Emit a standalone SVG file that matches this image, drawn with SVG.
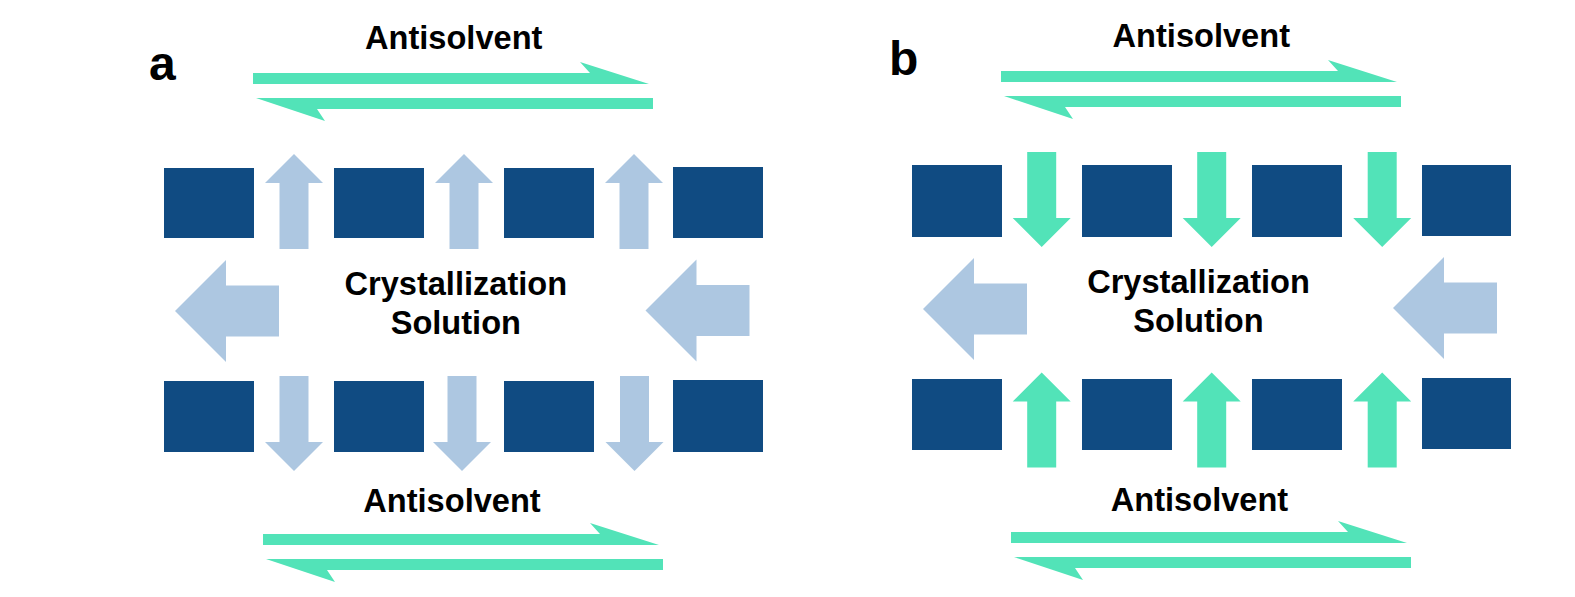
<svg xmlns="http://www.w3.org/2000/svg" xmlns:xlink="http://www.w3.org/1999/xlink" width="1575" height="597" viewBox="0 0 1575 597">
<style>
.blk{fill:#104B82}
.lb{fill:#ADC7E1}
.gr{fill:#52E3B8}
.t{font-family:"Liberation Sans",Arial,sans-serif;font-weight:bold;font-size:32.6px;fill:#000;text-anchor:middle}
.p{font-family:"Liberation Sans",Arial,sans-serif;font-weight:bold;font-size:48px;fill:#000}
</style>
<defs>
<path id="v" d="M0,0 L29,29 L14.5,29 L14.5,95 L-14.5,95 L-14.5,29 L-29,29 Z"/>
<path id="h" d="M0,0 L51,-51 L51,-25.5 L104,-25.5 L104,25.5 L51,25.5 L51,51 Z"/>
<g id="eq">
<path d="M253,73 L590,73 L580,62 L649,84 L253,84 Z"/>
<path d="M653,98 L256,98 L325,121 L317,109 L653,109 Z"/>
</g>
</defs>
<rect width="1575" height="597" fill="#fff"/>
<g id="panel-a">
<g id="a-top-r1"><rect class="blk" x="164" y="168" width="90" height="70"/></g>
<g id="a-top-r2"><rect class="blk" x="334" y="168" width="90" height="70"/></g>
<g id="a-top-r3"><rect class="blk" x="504" y="168" width="90" height="70"/></g>
<g id="a-top-r4"><rect class="blk" x="673" y="167" width="90" height="71"/></g>
<g id="a-bot-r1"><rect class="blk" x="164" y="381" width="90" height="71"/></g>
<g id="a-bot-r2"><rect class="blk" x="334" y="381" width="90" height="71"/></g>
<g id="a-bot-r3"><rect class="blk" x="504" y="381" width="90" height="71"/></g>
<g id="a-bot-r4"><rect class="blk" x="673" y="380" width="90" height="72"/></g>
</g>
<g id="panel-b">
<g id="b-top-r1"><rect class="blk" x="912" y="165" width="90" height="72"/></g>
<g id="b-top-r2"><rect class="blk" x="1082" y="165" width="90" height="72"/></g>
<g id="b-top-r3"><rect class="blk" x="1252" y="165" width="90" height="72"/></g>
<g id="b-top-r4"><rect class="blk" x="1422" y="165" width="89" height="71"/></g>
<g id="b-bot-r1"><rect class="blk" x="912" y="379" width="90" height="71"/></g>
<g id="b-bot-r2"><rect class="blk" x="1082" y="379" width="90" height="71"/></g>
<g id="b-bot-r3"><rect class="blk" x="1252" y="379" width="90" height="71"/></g>
<g id="b-bot-r4"><rect class="blk" x="1422" y="378" width="89" height="71"/></g>
</g>
<g id="connectors">
<g class="lb">
<use xlink:href="#v" href="#v" transform="translate(294,154)"/>
<use xlink:href="#v" href="#v" transform="translate(464,154)"/>
<use xlink:href="#v" href="#v" transform="translate(634,154)"/>
<use xlink:href="#v" href="#v" transform="translate(294,471) scale(1,-1)"/>
<use xlink:href="#v" href="#v" transform="translate(462,471) scale(1,-1)"/>
<use xlink:href="#v" href="#v" transform="translate(634.5,471) scale(1,-1)"/>
<use xlink:href="#h" href="#h" transform="translate(175,311)"/>
<use xlink:href="#h" href="#h" transform="translate(645.5,310.5)"/>
<use xlink:href="#h" href="#h" transform="translate(923,309)"/>
<use xlink:href="#h" href="#h" transform="translate(1393,308)"/>
</g>
<g class="gr">
<use xlink:href="#v" href="#v" transform="translate(1041.7,247) scale(1,-1)"/>
<use xlink:href="#v" href="#v" transform="translate(1211.7,247) scale(1,-1)"/>
<use xlink:href="#v" href="#v" transform="translate(1382.2,247) scale(1,-1)"/>
<use xlink:href="#v" href="#v" transform="translate(1041.7,372.5)"/>
<use xlink:href="#v" href="#v" transform="translate(1211.7,372.5)"/>
<use xlink:href="#v" href="#v" transform="translate(1382.2,372.5)"/>
<use xlink:href="#eq" href="#eq"/>
<use xlink:href="#eq" href="#eq" transform="translate(10,461)"/>
<use xlink:href="#eq" href="#eq" transform="translate(748,-2)"/>
<use xlink:href="#eq" href="#eq" transform="translate(758,459)"/>
</g>
</g>
<g id="labels">
<text class="p" x="149" y="80">a</text>
<text class="p" x="889" y="75">b</text>
<text class="t" x="453.7" y="49.3">Antisolvent</text>
<text class="t" x="452" y="512.3">Antisolvent</text>
<text class="t" x="1201.3" y="46.7">Antisolvent</text>
<text class="t" x="1199.5" y="510.7">Antisolvent</text>
<text class="t" x="455.8" y="294.5">Crystallization</text>
<text class="t" x="455.8" y="333.5">Solution</text>
<text class="t" x="1198.5" y="292.5">Crystallization</text>
<text class="t" x="1198.5" y="331.5">Solution</text>
</g>
</svg>
